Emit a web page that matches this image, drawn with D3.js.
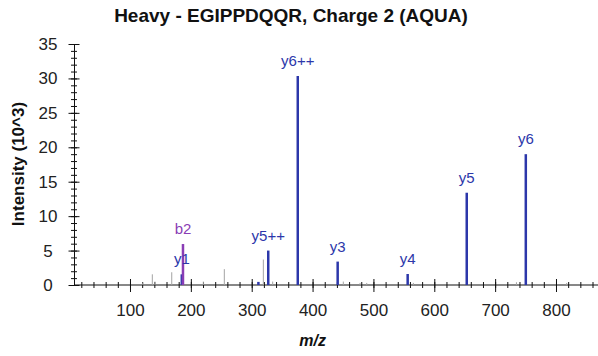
<!DOCTYPE html>
<html>
<head>
<meta charset="utf-8">
<script src="https://cdn.jsdelivr.net/npm/d3@7"></script>
<style>
  body { margin: 0; background: #fff; }
  svg { font-family: "Liberation Sans", Arial, sans-serif; }
</style>
</head>
<body>
<div id="chart"></div>
<script>
// assigned fragment ions (m/z, intensity x10^3)
const ionLabels = ["y1", "b2", "y5++", "y6++", "y3", "y4", "y5", "y6"];
const ionMz = [185.13, 187.07, 327.17, 375.69, 441.25, 556.27, 653.33, 750.38];
const ionIntensity = [1.55, 5.95, 5.0, 30.35, 3.4, 1.6, 13.4, 19.0];
const ionType = ["y", "b", "y", "y", "y", "y", "y", "y"];

// small unlabelled blue peak
const extraMz = [311.0];
const extraIntensity = [0.45];

// unassigned peaks (grey)
const otherMz = [121, 136.7, 141, 168.6, 220.5, 255.0, 319.1, 334.5, 450.5, 478, 489, 565.6, 735, 817.6];
const otherIntensity = [0.35, 1.55, 0.5, 1.85, 0.5, 2.3, 3.7, 0.5, 0.5, 0.3, 0.3, 0.3, 0.4, 0.3];

const xMajorTicks = [100, 200, 300, 400, 500, 600, 700, 800];
const yMajorTicks = [0, 5, 10, 15, 20, 25, 30, 35];

const width = 598, height = 356;
const colors = { y: "#2c37aa", b: "#8a3db5" };

const svg = d3.select("#chart").append("svg")
  .attr("width", width)
  .attr("height", height);

const x = d3.scaleLinear().domain([8, 870]).range([74, 598.6]);
const y = d3.scaleLinear().domain([0, 35]).range([285, 44]);

// title
svg.append("text")
  .attr("x", 291).attr("y", 22)
  .attr("text-anchor", "middle")
  .attr("font-size", 19).attr("font-weight", "bold")
  .attr("fill", "#111")
  .text("Heavy - EGIPPDQQR, Charge 2 (AQUA)");

// x axis: minor ticks every 20, labelled majors every 100
const xMinor = svg.append("g")
  .attr("transform", "translate(0," + y(0) + ")")
  .call(d3.axisBottom(x).tickValues(d3.range(20, 870, 20)).tickFormat("").tickSizeOuter(0));
xMinor.select(".domain").attr("d", "M" + x(8) + ",0H" + width);
xMinor.selectAll(".tick line").attr("y1", -3).attr("y2", 3);

const xMajor = svg.append("g")
  .attr("transform", "translate(0," + y(0) + ")")
  .call(d3.axisBottom(x).tickValues(xMajorTicks).tickSizeOuter(0));
xMajor.select(".domain").remove();
xMajor.selectAll(".tick line").attr("y1", -6).attr("y2", 7);
xMajor.selectAll(".tick text")
  .attr("y", 31).attr("dy", 0)
  .attr("font-size", 17).attr("fill", "#222")
  .attr("font-family", "Liberation Sans, Arial, sans-serif");

// y axis: minor every 1, majors every 5
const yMinor = svg.append("g")
  .attr("transform", "translate(" + x(8) + ",0)")
  .call(d3.axisLeft(y).tickValues(d3.range(0, 36, 1)).tickFormat("").tickSizeOuter(0));
yMinor.selectAll(".tick line").attr("x1", -3).attr("x2", 3);

const yMajor = svg.append("g")
  .attr("transform", "translate(" + x(8) + ",0)")
  .call(d3.axisLeft(y).tickValues(yMajorTicks).tickSizeOuter(0));
yMajor.select(".domain").remove();
yMajor.selectAll(".tick line").attr("x1", -5.5).attr("x2", 5.5);
yMajor.selectAll(".tick text")
  .attr("x", -26).attr("text-anchor", "middle")
  .attr("font-size", 17).attr("fill", "#222")
  .attr("font-family", "Liberation Sans, Arial, sans-serif");

svg.selectAll(".domain, .tick line").attr("stroke", "#111");

// axis titles
svg.append("text")
  .attr("transform", "translate(24,164) rotate(-90)")
  .attr("text-anchor", "middle")
  .attr("font-size", 17).attr("font-weight", "bold")
  .attr("fill", "#111")
  .text("Intensity (10^3)");

svg.append("text")
  .attr("x", x(400)).attr("y", 346)
  .attr("text-anchor", "middle")
  .attr("font-size", 16).attr("font-weight", "bold").attr("font-style", "italic")
  .attr("fill", "#111")
  .text("m/z");

// grey unassigned peaks
svg.append("g").selectAll("line")
  .data(otherMz.map((m, i) => ({ m, v: otherIntensity[i] })))
  .join("line")
  .attr("x1", d => x(d.m)).attr("x2", d => x(d.m))
  .attr("y1", y(0)).attr("y2", d => y(d.v))
  .attr("stroke", "#a3a3a3").attr("stroke-width", 1);

svg.append("g").selectAll("line")
  .data(extraMz.map((m, i) => ({ m, v: extraIntensity[i] })))
  .join("line")
  .attr("x1", d => x(d.m)).attr("x2", d => x(d.m))
  .attr("y1", y(0)).attr("y2", d => y(d.v))
  .attr("stroke", colors.y).attr("stroke-width", 2.5);

// assigned ion peaks + labels
const ions = ionLabels.map((l, i) => ({ l, m: ionMz[i], v: ionIntensity[i], t: ionType[i] }));

svg.append("g").selectAll("line")
  .data(ions)
  .join("line")
  .attr("x1", d => x(d.m)).attr("x2", d => x(d.m))
  .attr("y1", y(0)).attr("y2", d => y(d.v))
  .attr("stroke", d => colors[d.t]).attr("stroke-width", 2.5);

svg.append("g").selectAll("text")
  .data(ions)
  .join("text")
  .attr("x", d => x(d.m))
  .attr("y", d => y(d.v) - 10)
  .attr("text-anchor", "middle")
  .attr("font-size", 15)
  .attr("fill", d => colors[d.t])
  .text(d => d.l);
</script>
</body>
</html>
